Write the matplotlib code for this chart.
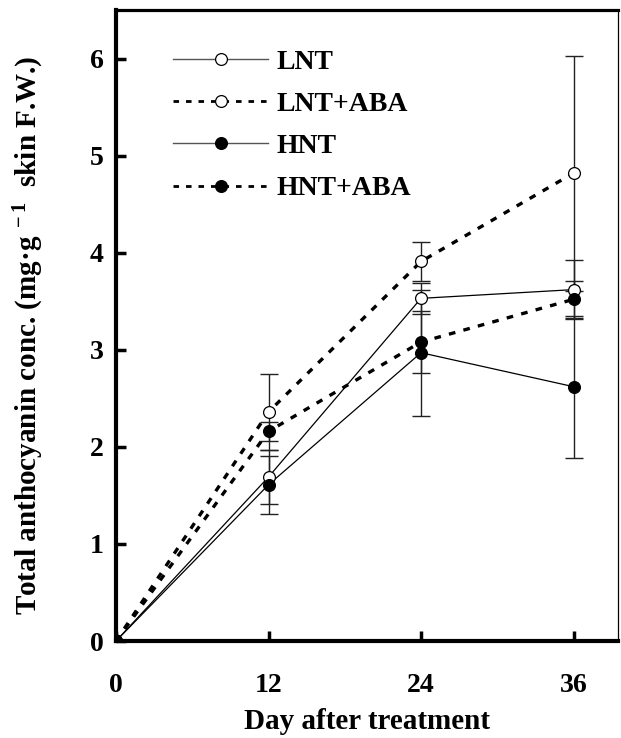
import matplotlib
matplotlib.use("Agg")
from matplotlib import pyplot as plt

days = [0, 12, 24, 36]

lnt = [0, 1.69, 3.53, 3.62]
lnt_err = [0, 0.28, 0.16, 0.30]
lnt_aba = [0, 2.36, 3.91, 4.82]
lnt_aba_err = [0, 0.39, 0.20, 1.21]
hnt = [0, 1.61, 2.97, 2.62]
hnt_err = [0, 0.30, 0.65, 0.73]
hnt_aba = [0, 2.16, 3.08, 3.52]
hnt_aba_err = [0, 0.10, 0.32, 0.19]

x_ticks = [0, 12, 24, 36]
y_ticks = [0, 1, 2, 3, 4, 5, 6]

plt.rcParams["font.family"] = ["Liberation Serif", "DejaVu Serif"]
plt.rcParams["font.weight"] = "bold"
plt.rcParams["mathtext.fontset"] = "custom"
plt.rcParams["mathtext.rm"] = "Liberation Serif:bold"
plt.rcParams["mathtext.it"] = "Liberation Serif:bold"
plt.rcParams["mathtext.bf"] = "Liberation Serif:bold"
plt.rcParams["mathtext.default"] = "bf"


def main() -> None:
    fig = plt.figure(figsize=(6.21, 7.38), dpi=100)
    ax = fig.add_axes([0.1868, 0.1314, 0.8084, 0.855])

    dotted = (0, (2.0, 2.5))
    series = [
        ("LNT", lnt, lnt_err, "-", "white", 0.9, "#555555"),
        ("LNT+ABA", lnt_aba, lnt_aba_err, dotted, "white", 2.4, "black"),
        ("HNT", hnt, hnt_err, "-", "black", 0.9, "#555555"),
        ("HNT+ABA", hnt_aba, hnt_aba_err, dotted, "black", 2.4, "black"),
    ]

    # error bars first, lines and markers on top
    for label, vals, err, ls, face, lw, lcol in series:
        ax.errorbar(days, vals, yerr=err, fmt="none", ecolor="#222222",
                    elinewidth=1.0, capsize=6.5, capthick=1.0, zorder=2)

    for label, vals, err, ls, face, lw, lcol in series:
        ax.plot(days, vals, linestyle=ls, color="black", linewidth=lw,
                zorder=3)
        ax.plot(days, vals, linestyle="none", marker="o", markersize=8.5,
                markerfacecolor=face, markeredgecolor="black",
                markeredgewidth=0.9, zorder=4)

    # legend proxies
    handles = []
    for label, vals, err, ls, face, lw, lcol in series:
        lw_leg = 1.0 if ls == "-" else 2.0
        (h,) = ax.plot([], [], linestyle=ls, color=lcol, linewidth=lw_leg,
                       marker="o", markersize=8.5, markerfacecolor=face,
                       markeredgecolor="black", markeredgewidth=0.9,
                       label=label)
        handles.append(h)
    ax.legend(handles=handles, loc="upper left", bbox_to_anchor=(0.092, 0.955),
              frameon=False, handlelength=3.4, handletextpad=0.3,
              labelspacing=0.6, borderaxespad=0.0,
              prop={"weight": "bold", "size": 20})

    ax.set_xlim(0, 39.5)
    ax.set_ylim(0, 6.5)
    ax.set_xticks(x_ticks)
    ax.set_yticks(y_ticks)
    ax.tick_params(axis="both", direction="in", length=7, width=2.5,
                   labelsize=20)
    ax.tick_params(axis="x", pad=23)
    ax.tick_params(axis="y", pad=9)
    for t in ax.get_xticklabels() + ax.get_yticklabels():
        t.set_fontweight("bold")

    ax.spines["left"].set_linewidth(3.0)
    ax.spines["bottom"].set_linewidth(3.0)
    ax.spines["top"].set_linewidth(2.3)
    ax.spines["right"].set_linewidth(0.9)

    ax.set_xlabel("Day after treatment", fontsize=21, fontweight="bold",
                  labelpad=7)
    ax.set_ylabel(r"Total anthocyanin conc. (mg·g$^{\ -1}$  skin F.W.)",
                  fontsize=21, fontweight="bold")
    ax.yaxis.set_label_coords(-0.139, 0.485)

    fig.savefig("out.png", dpi=100)


if __name__ == "__main__":
    main()
